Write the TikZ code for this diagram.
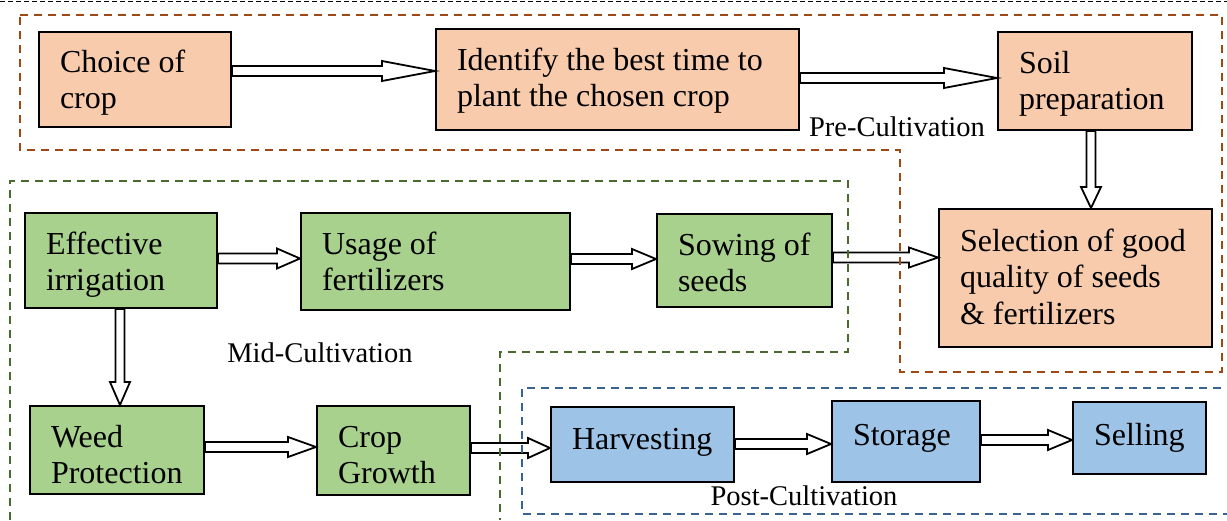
\documentclass[tikz,border=0pt]{standalone}
\usepackage{fontspec}
\setmainfont{Liberation Serif}
\usetikzlibrary{calc}
\definecolor{peach}{HTML}{F8CBAD}
\definecolor{leaf}{HTML}{A9D18E}
\definecolor{sky}{HTML}{9DC3E6}
\definecolor{brownd}{HTML}{9E4A14}
\definecolor{greend}{HTML}{4A6B30}
\definecolor{blued}{HTML}{3A6490}
\tikzset{
  box/.style={draw=black, line width=2pt, inner xsep=21pt, inner ysep=0pt,
    align=flush left, font=\fontsize{32}{36.5}\selectfont, anchor=center,
    text height=25pt, text depth=40pt},
  pre/.style={box, fill=peach},
  mid/.style={box, fill=leaf},
  post/.style={box, fill=sky, text height=22pt},
  region/.style={line width=1.8pt, dash pattern=on 8pt off 6pt},
  lab/.style={font=\fontsize{28.5}{32}\selectfont, inner sep=0pt},
  hhead/.store in=\hhead, hhead=25pt,
  harr/.style={draw=black, fill=white, line width=1.8pt, line join=miter, hhead=#1,
    to path={let \p1=(\tikztostart), \p2=(\tikztotarget) in
      (\x1,\y1+5pt) -- (\x2-\hhead,\y1+5pt) -- (\x2-\hhead,\y1+10pt) -- (\x2,\y1)
      -- (\x2-\hhead,\y1-10pt) -- (\x2-\hhead,\y1-5pt) -- (\x1,\y1-5pt) -- cycle}},
  varr/.style={draw=black, fill=white, line width=1.8pt, line join=miter, hhead=#1,
    to path={let \p1=(\tikztostart), \p2=(\tikztotarget) in
      (\x1-4.5pt,\y1) -- (\x1-4.5pt,\y2+\hhead) -- (\x1-10pt,\y2+\hhead) -- (\x1,\y2)
      -- (\x1+10pt,\y2+\hhead) -- (\x1+4.5pt,\y2+\hhead) -- (\x1+4.5pt,\y1) -- cycle}},
}
\begin{document}
\begin{tikzpicture}[x=1pt, y=-1pt]
\useasboundingbox (0,0) rectangle (1227,520);
\fill[white] (0,0) rectangle (1227,520);

% boxes
\node[pre, minimum width=192pt, minimum height=95pt, text width=150pt] (choice) at (135,79.5) {Choice of\\crop};
\node[pre, minimum width=363pt, minimum height=101pt, text width=321pt, text depth=44pt] (identify) at (617.5,79.5) {Identify the best time to\\plant the chosen crop};
\node[pre, minimum width=194pt, minimum height=98pt, text width=152pt, text depth=41pt] (soil) at (1095,81) {Soil\\preparation};
\node[pre, minimum width=273pt, minimum height=138pt, text width=231pt, text depth=79pt] (select) at (1075.5,278) {Selection of good\\quality of seeds\\\& fertilizers};

\node[mid, minimum width=192pt, minimum height=95pt, text width=150pt, text depth=38pt] (irrig) at (121,260.5) {Effective\\irrigation};
\node[mid, minimum width=269pt, minimum height=97pt, text width=227pt] (usage) at (435.5,261.5) {Usage of\\fertilizers};
\node[mid, minimum width=175pt, minimum height=93pt, text width=133pt, text depth=36pt] (sowing) at (744.5,260.5) {Sowing of\\seeds};
\node[mid, minimum width=174pt, minimum height=88pt, text width=132pt, text depth=31pt] (weed) at (117,450) {Weed\\Protection};
\node[mid, minimum width=153pt, minimum height=89pt, text width=111pt, text depth=32pt] (cropg) at (393.5,450.5) {Crop\\Growth};

\node[post, minimum width=183pt, minimum height=75pt, text width=141pt, text depth=13pt] (harvest) at (642.5,444.5) {Harvesting};
\node[post, minimum width=148pt, minimum height=81pt, text width=106pt, text depth=14pt] (storage) at (906,441.5) {Storage};
\node[post, minimum width=133pt, minimum height=72pt, text width=91pt, text depth=8pt] (selling) at (1139.5,438) {Selling};

% arrows
\draw[harr=53pt] ([yshift=8.5pt]choice.east) to (identify.west);
\draw[harr=53pt] ([yshift=1.5pt]identify.east) to (soil.west);
\draw[varr=21pt] ([xshift=-4pt]soil.south) to (select.north);
\draw[harr=23pt] ([yshift=2pt]irrig.east) to (usage.west);
\draw[harr=24pt] ([yshift=2.5pt]usage.east) to (sowing.west);
\draw[harr=29pt] ([yshift=3pt]sowing.east) to (select.west);
\draw[varr=23pt] ([xshift=-1pt]irrig.south) to (weed.north);
\draw[harr=28pt] ([yshift=3pt]weed.east) to (cropg.west);
\draw[harr=22pt] ([yshift=2.5pt]cropg.east) to (harvest.west);
\draw[harr=24pt] ([yshift=0.5pt]harvest.east) to (storage.west);
\draw[harr=24pt] ([yshift=1.5pt]storage.east) to (selling.west);

% regions
\draw[region, draw=brownd] (20,15) -- (1222,15) -- (1222,372) -- (900,372) -- (900,150) -- (20,150) -- cycle;
\draw[region, draw=greend] (10,520) -- (10,181) -- (848,181) -- (848,352) -- (500,352) -- (500,520);
\draw[region, draw=blued] (1235,388) -- (522,388) -- (522,514) -- (1235,514);
\draw[line width=1pt, dash pattern=on 5pt off 3pt] (0,1) -- (1227,1);

% labels
\node[lab] (prelab) at (897,127) {Pre-Cultivation};
\node[lab] (midlab) at (320,353) {Mid-Cultivation};
\node[lab] (postlab) at (804,496) {Post-Cultivation};
\end{tikzpicture}
\end{document}
